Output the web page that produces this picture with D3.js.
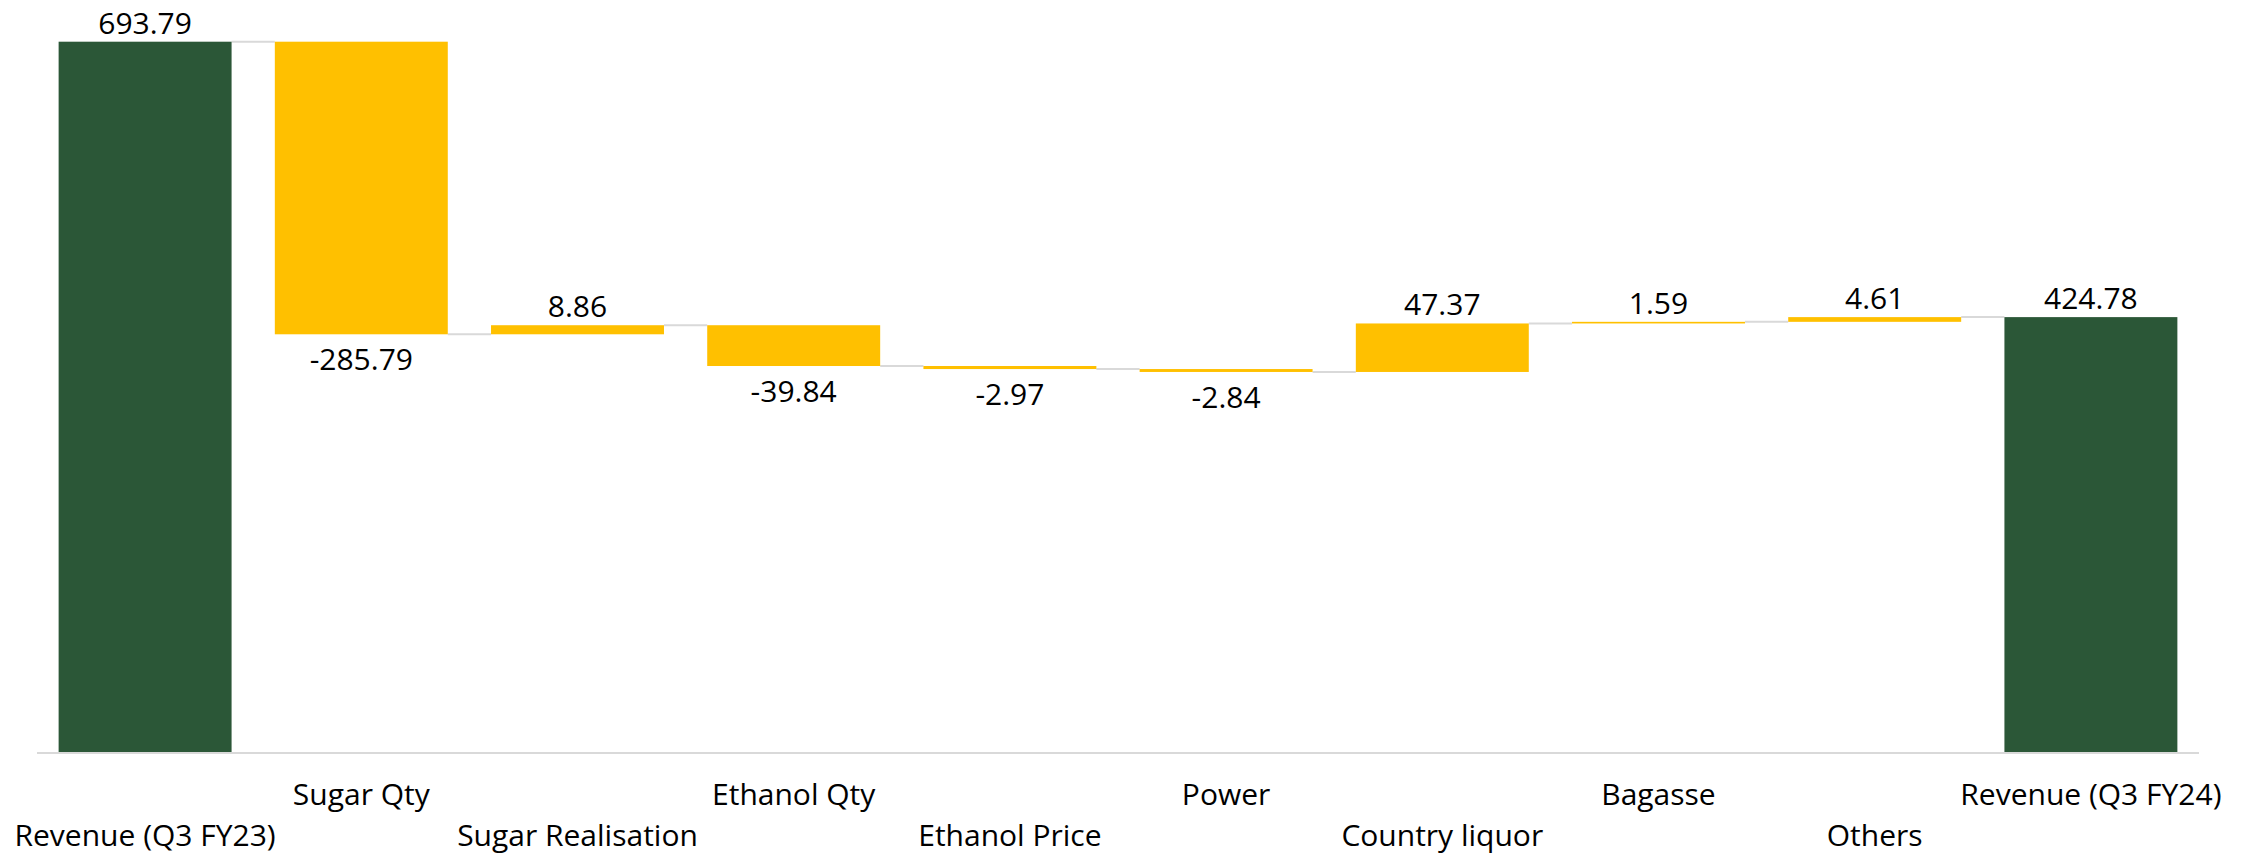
<!DOCTYPE html>
<html lang="en">
<head>
  <meta charset="UTF-8">
  <title>Revenue bridge</title>
  <style>
    body { margin: 0; background: #fff; }
    svg text { font-family: "Segoe UI", "Open Sans", sans-serif; fill: #000; }
  </style>
</head>
<body>
  <svg id="chart" width="2251" height="858"></svg>

  <script src="https://d3js.org/d3.v7.min.js"></script>
  <script>
    let categories = ["Revenue (Q3 FY23)", "Sugar Qty", "Sugar Realisation", "Ethanol Qty", "Ethanol Price",
                      "Power", "Country liquor", "Bagasse", "Others", "Revenue (Q3 FY24)"];
    let values = [693.79, -285.79, 8.86, -39.84, -2.97, -2.84, 47.37, 1.59, 4.61, 424.78];
    let totals = [true, false, false, false, false, false, false, false, false, true];

    let svg = d3.select("#chart");
    let fmt = d3.formatLocale({ decimal: ".", thousands: ",", grouping: [3], currency: ["", ""], minus: "-" }).format(".2f");

    // running totals -> start / end of each step
    let run = 0;
    let steps = values.map((v, i) => {
      let s = totals[i] ? 0 : run;
      let e = totals[i] ? v : run + v;
      run = e;
      return { name: categories[i], value: v, total: totals[i], start: s, end: e };
    });

    let x = d3.scaleBand()
      .domain(categories)
      .range([37, 2199])
      .paddingInner(0.2)
      .paddingOuter(0.1);

    let y = d3.scaleLinear()
      .domain([0, 693.79])
      .range([752, 41.7]);

    // connectors
    svg.selectAll(".link")
      .data(steps.slice(0, -1))
      .enter()
      .append("line")
      .attr("class", "link")
      .attr("x1", d => x(d.name) + x.bandwidth())
      .attr("x2", (d, i) => x(categories[i + 1]))
      .attr("y1", d => y(d.end))
      .attr("y2", d => y(d.end))
      .attr("stroke", "#d9d9d9")
      .attr("stroke-width", 2);

    svg.selectAll(".bar")
      .data(steps)
      .enter()
      .append("rect")
      .attr("class", "bar")
      .attr("x", d => x(d.name))
      .attr("width", x.bandwidth())
      .attr("y", d => y(Math.max(d.start, d.end)))
      .attr("height", d => Math.max(1, Math.abs(y(d.start) - y(d.end))))
      .attr("fill", d => d.total ? "#2b5737" : "#ffc000");

    // baseline
    svg.append("line")
      .attr("x1", x.range()[0])
      .attr("x2", x.range()[1])
      .attr("y1", 753)
      .attr("y2", 753)
      .attr("stroke", "#d9d9d9")
      .attr("stroke-width", 2);

    svg.selectAll(".val")
      .data(steps)
      .enter()
      .append("text")
      .attr("class", "val")
      .attr("x", d => x(d.name) + x.bandwidth() / 2)
      .attr("y", d => d.value >= 0 ? y(Math.max(d.start, d.end)) - 8 : y(Math.min(d.start, d.end)) + 36)
      .attr("text-anchor", "middle")
      .attr("font-size", 30)
      .text(d => fmt(d.value));

    svg.selectAll(".cat")
      .data(categories)
      .enter()
      .append("text")
      .attr("class", "cat")
      .attr("x", d => x(d) + x.bandwidth() / 2)
      .attr("y", (d, i) => i % 2 ? 805 : 846)
      .attr("text-anchor", "middle")
      .attr("font-size", 30)
      .text(d => d);
  </script>
</body>
</html>
